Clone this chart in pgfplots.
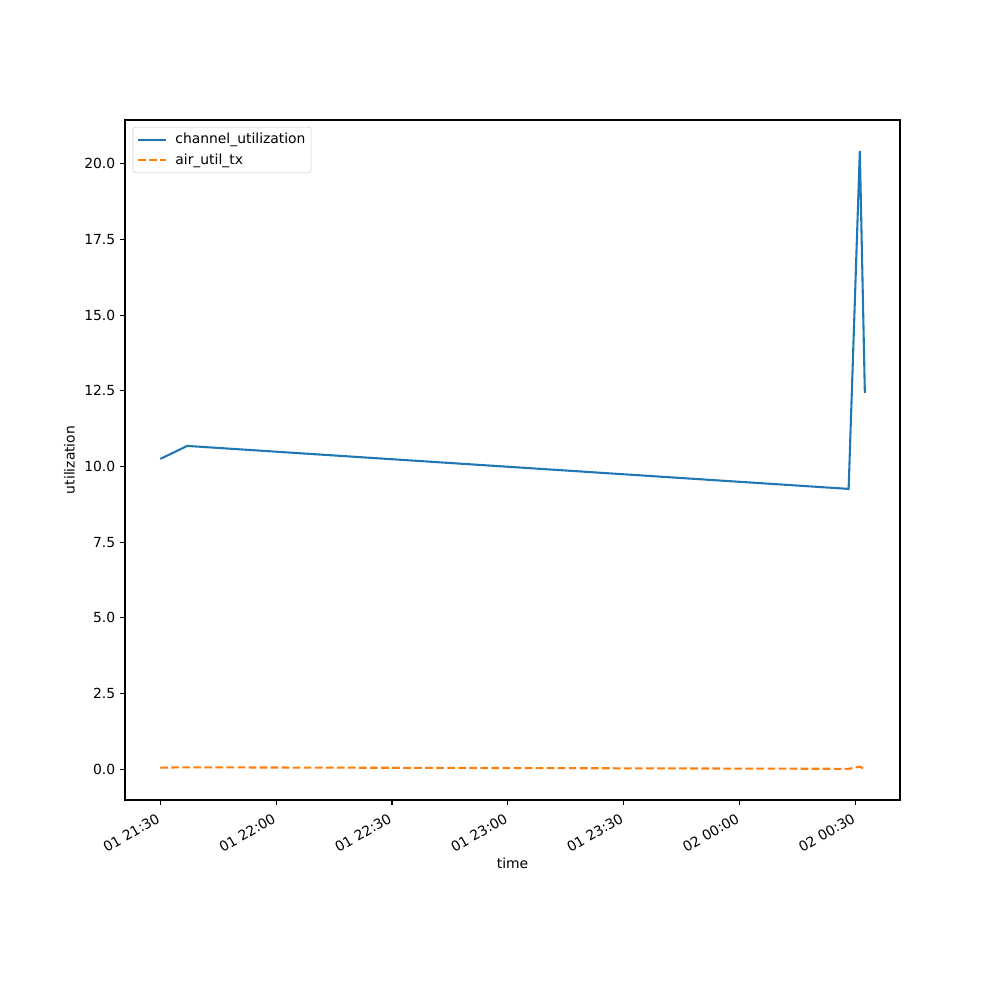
\documentclass[border=0pt]{standalone}
\usepackage{fontspec}
\setmainfont{DejaVu Sans}
\usepackage{pgfplots}
\pgfplotsset{compat=1.18}
\definecolor{tabblue}{HTML}{1F77B4}
\definecolor{taborange}{HTML}{FF7F0E}
\begin{document}
\begin{tikzpicture}[x=1pt,y=1pt]
  \path[use as bounding box] (0,0) rectangle (720,720);
  \begin{axis}[
    at={(90pt,144pt)}, anchor=south west,
    scale only axis, width=558pt, height=489.6pt,
    xmin=-9.12, xmax=191.5,
    ymin=-1.02, ymax=21.45,
    xtick={0,30,60,90,120,150,180},
    xticklabels={01 21:30,01 22:00,01 22:30,01 23:00,01 23:30,02 00:00,02 00:30},
    xticklabel style={rotate=30, anchor=north east, inner sep=1pt, yshift=-2pt, xshift=-4.5pt},
    ytick={0,2.5,5,7.5,10,12.5,15,17.5,20},
    yticklabel style={/pgf/number format/fixed, /pgf/number format/precision=1,
      /pgf/number format/fixed zerofill},
    /pgf/number format/assume math mode=true,
    tick label style={font=\fontsize{10}{12}\selectfont},
    label style={font=\fontsize{10}{12}\selectfont},
    tick align=outside, tick pos=left,
    major tick length=3.5pt,
    every tick/.style={black, line width=0.8pt},
    axis line style={line width=0.8pt},
    xlabel={time}, ylabel={utilization},
    xlabel style={yshift=1pt},
    legend image code/.code={\draw[#1] (0pt,0pt) -- (20pt,0pt);},
    legend style={font=\fontsize{10}{12}\selectfont, draw=black!20, rounded corners=2pt,
      inner sep=3pt, row sep=3pt, column sep=5pt,
      nodes={inner sep=1pt, text height=7.6pt, text depth=2.4pt},
      at={(0.01,0.99)}, anchor=north west},
    legend cell align=left,
  ]
  \addplot[tabblue, line width=1.5pt] coordinates {
    (0, 10.25) (7.0, 10.68) (178.2, 9.26) (181.1, 20.43) (182.4, 12.43)
  };
  \addlegendentry{channel\_utilization}
  \addplot[taborange, line width=1.5pt, dash pattern=on 5.55pt off 2.4pt] coordinates {
    (0, 0.05) (7.0, 0.06) (178.2, 0.01) (181.1, 0.08) (182.4, 0.0)
  };
  \addlegendentry{air\_util\_tx}
  \end{axis}
\end{tikzpicture}
\end{document}
